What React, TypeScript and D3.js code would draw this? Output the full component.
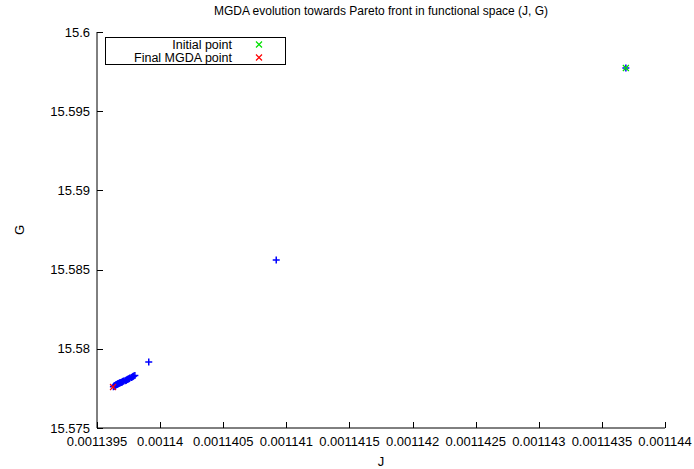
import React, { useEffect, useRef } from "react";
import * as d3 from "d3";

// MGDA iterates in (J, G) functional space
const iterJ: number[] = [
  0.00114369, 0.00114092, 0.00113991,
  0.0011398, 0.00113979, 0.001139785, 0.00113978, 0.001139772, 0.00113976,
  0.001139755, 0.00113975, 0.001139743, 0.00113974, 0.001139733, 0.00113973,
  0.001139722, 0.00113971, 0.001139705, 0.0011397, 0.001139695, 0.00113969,
  0.001139683, 0.00113968, 0.001139675, 0.00113967, 0.001139668, 0.001139664,
  0.00113966, 0.001139656, 0.001139652, 0.001139648, 0.001139644, 0.00113964,
  0.001139637, 0.001139634, 0.00113963,
];
const iterG: number[] = [
  15.59773, 15.58561, 15.57917,
  15.57831, 15.57828, 15.57825, 15.57822, 15.57819, 15.57816,
  15.57812, 15.57809, 15.57807, 15.57806, 15.57803, 15.578,
  15.57798, 15.57797, 15.57794, 15.5779, 15.57789, 15.57787,
  15.57786, 15.57784, 15.57782, 15.57781, 15.57779, 15.57778,
  15.57776, 15.57775, 15.57773, 15.57771, 15.57769, 15.57767,
  15.57765, 15.57763, 15.57761,
];

const initialJ: number[] = [0.00114369];
const initialG: number[] = [15.59773];
const finalJ: number[] = [0.001139627];
const finalG: number[] = [15.57759];

const xTicks: number[] = [
  0.0011395, 0.00114, 0.0011405, 0.001141, 0.0011415, 0.001142, 0.0011425,
  0.001143, 0.0011435, 0.001144,
];
const xTickLabels: string[] = [
  "0.0011395", "0.00114", "0.0011405", "0.001141", "0.0011415", "0.001142",
  "0.0011425", "0.001143", "0.0011435", "0.001144",
];
const yTicks: number[] = [15.575, 15.58, 15.585, 15.59, 15.595, 15.6];
const yTickLabels: string[] = ["15.575", "15.58", "15.585", "15.59", "15.595", "15.6"];

const legendLabels: string[] = ["Initial point", "Final MGDA point"];

const W = 694;
const H = 469;
const margin = { left: 97, right: 29, top: 32, bottom: 41 };
const FONT = "'Liberation Sans', Arial, sans-serif";
const BLUE = "#0000ff";
const GREEN = "#00e000";
const RED = "#ff0000";

export default function App() {
  const ref = useRef<SVGSVGElement | null>(null);

  useEffect(() => {
    const svg = d3.select(ref.current);
    svg.selectAll("*").remove();

    const x = d3
      .scaleLinear()
      .domain([xTicks[0], xTicks[xTicks.length - 1]])
      .range([margin.left, W - margin.right]);
    const y = d3
      .scaleLinear()
      .domain([yTicks[0], yTicks[yTicks.length - 1]])
      .range([H - margin.bottom, margin.top]);

    const g = svg.append("g").attr("font-family", FONT).attr("font-size", 13);

    // title
    g.append("text")
      .attr("x", (margin.left + W - margin.right) / 2)
      .attr("y", 15)
      .attr("text-anchor", "middle")
      .attr("font-size", 12)
      .text("MGDA evolution towards Pareto front in functional space (J, G)");

    // border (left + bottom)
    g.append("path")
      .attr(
        "d",
        `M${x.range()[0]},${y.range()[1]}V${y.range()[0]}H${x.range()[1]}`
      )
      .attr("fill", "none")
      .attr("stroke", "#000")
      .attr("stroke-width", 1);

    // x ticks (inward)
    xTicks.forEach((t, i) => {
      const px = Math.round(x(t)) + 0.5;
      g.append("line")
        .attr("x1", px)
        .attr("x2", px)
        .attr("y1", y.range()[0])
        .attr("y2", y.range()[0] - 6)
        .attr("stroke", "#000");
      g.append("text")
        .attr("x", x(t))
        .attr("y", y.range()[0] + 18)
        .attr("text-anchor", "middle")
        .text(xTickLabels[i]);
    });

    // y ticks (inward)
    yTicks.forEach((t, i) => {
      const py = Math.round(y(t)) + 0.5;
      g.append("line")
        .attr("x1", x.range()[0])
        .attr("x2", x.range()[0] + 6)
        .attr("y1", py)
        .attr("y2", py)
        .attr("stroke", "#000");
      g.append("text")
        .attr("x", x.range()[0] - 7)
        .attr("y", y(t) + 4.5)
        .attr("text-anchor", "end")
        .text(yTickLabels[i]);
    });

    // axis titles
    g.append("text")
      .attr("x", (margin.left + W - margin.right) / 2)
      .attr("y", H - 3)
      .attr("text-anchor", "middle")
      .text("J");
    g.append("text")
      .attr("transform", `translate(24,${(margin.top + H - margin.bottom) / 2}) rotate(-90)`)
      .attr("text-anchor", "middle")
      .text("G");

    const plus = (sel: any, cx: number, cy: number, color: string) => {
      sel
        .append("path")
        .attr("d", `M${cx - 3.5},${cy}H${cx + 3.5}M${cx},${cy - 3.5}V${cy + 3.5}`)
        .attr("stroke", color)
        .attr("stroke-width", 1.5)
        .attr("fill", "none");
    };
    const cross = (sel: any, cx: number, cy: number, color: string) => {
      sel
        .append("path")
        .attr(
          "d",
          `M${cx - 3},${cy - 3}L${cx + 3},${cy + 3}M${cx - 3},${cy + 3}L${cx + 3},${cy - 3}`
        )
        .attr("stroke", color)
        .attr("stroke-width", 1.2)
        .attr("fill", "none");
    };

    // iterates
    iterJ.forEach((j, i) => plus(g, x(j), y(iterG[i]), BLUE));
    initialJ.forEach((j, i) => cross(g, x(j), y(initialG[i]), GREEN));
    finalJ.forEach((j, i) => cross(g, x(j), y(finalG[i]), RED));

    // legend
    const lg = g.append("g");
    lg.append("rect")
      .attr("x", 105.5)
      .attr("y", 37.5)
      .attr("width", 180)
      .attr("height", 27)
      .attr("fill", "#fff")
      .attr("stroke", "#000");
    const colors = [GREEN, RED];
    legendLabels.forEach((lab, i) => {
      const cy = 44.5 + i * 13;
      lg.append("text")
        .attr("x", 232)
        .attr("y", cy + 4)
        .attr("text-anchor", "end")
        .attr("font-size", 12.5)
        .text(lab);
      cross(lg, 259, cy, colors[i]);
    });
  }, []);

  return (
    <div style={{ position: "fixed", left: 0, top: 0, width: W, height: H, background: "#fff" }}>
      <svg ref={ref} width={W} height={H} />
    </div>
  );
}
